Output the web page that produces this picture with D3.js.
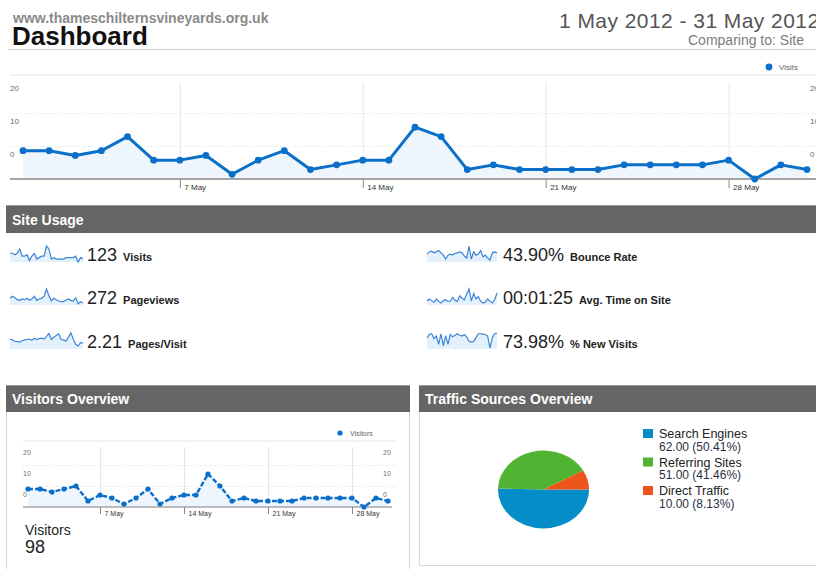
<!DOCTYPE html>
<html>
<head>
<meta charset="utf-8">
<script src="https://cdn.jsdelivr.net/npm/d3@7"></script>
<style>
  body { margin: 0; background: #fff; }
  svg { display: block; font-family: "Liberation Sans", Arial, Helvetica, sans-serif; }
</style>
</head>
<body>
<div class="Dashboard"></div>
<script>
// Size of the page
const WIDTH = 816;
const HEIGHT = 569;

// Daily figures, 1 May 2012 to 31 May 2012
const visits = [6, 6, 5, 6, 9, 4, 4, 5, 1, 4, 6, 2, 3, 4, 4, 11, 9, 2, 3, 2, 2, 2, 2, 3, 3, 3, 3, 4, 0, 3, 2];
const visitors = [6, 6, 5, 6, 7, 2, 4, 3, 1, 3, 6, 1, 3, 4, 4, 11, 7, 2, 3, 2, 2, 2, 2, 3, 3, 3, 3, 3, 0, 3, 2];
const pageviews = [10, 13, 11, 8, 7, 9, 8, 10, 7, 9, 13, 7, 9, 10, 13, 24, 14, 6, 10, 8, 6, 5, 5, 7, 9, 7, 6, 11, 2, 5, 3];
const pagesPerVisit = [2.3, 2.1, 1.8, 1.7, 1.6, 1.9, 2.1, 2.2, 2.3, 2.0, 2.5, 2.2, 2.4, 2.5, 2.3, 2.9, 3.6, 2.2, 2.7, 3.1, 3.5, 2.2, 2.1, 1.8, 2.7, 3.7, 2.3, 1.1, 0.7, 1.5, 1.3];
const bounceRate = [44, 56, 60, 51, 56, 64, 51, 38, 16, 38, 44, 40, 47, 51, 56, 51, 33, 22, 89, 16, 56, 38, 44, 64, 29, 38, 22, 11, 51, 56, 51];
const avgTime = [67, 100, 73, 47, 100, 60, 33, 73, 87, 60, 67, 127, 80, 60, 153, 113, 87, 180, 267, 67, 193, 100, 140, 60, 33, 47, 100, 60, 33, 87, 200];
const newVisits = [60, 76, 80, 54, 68, 24, 80, 16, 70, 24, 76, 64, 72, 80, 72, 68, 76, 64, 40, 36, 40, 60, 80, 80, 78, 76, 68, 4, 60, 80, 84];

// Axis ticks
const weekTicks = ["2012-05-07", "2012-05-14", "2012-05-21", "2012-05-28"];
const yTickValues = [7, 14, 21];
const yTickLabels = ["0", "10", "20"];

// Site usage summary
const usageValues = ["123", "272", "2.21", "43.90%", "00:01:25", "73.98%"];
const usageLabels = ["Visits", "Pageviews", "Pages/Visit", "Bounce Rate", "Avg. Time on Site", "% New Visits"];
const uniqueVisitors = 98;

// Traffic sources
const sources = ["Search Engines", "Referring Sites", "Direct Traffic"];
const sourceValues = [62, 51, 10];
const sourceShares = ["50.41%", "41.46%", "8.13%"];

const SOURCE_COLORS = ["#058dc7", "#50b432", "#ed561b"];
const LINE_BLUE = "#0a6fc9";

const days = d3.range(1, 32).map((d) => new Date(2012, 4, d));
const parseDay = d3.timeParse("%Y-%m-%d");
const ticks = weekTicks.map(parseDay);

var svg = d3
  .select(".Dashboard")
  .append("svg")
  .attr("width", WIDTH)
  .attr("height", HEIGHT);

// ---------- header ----------
svg.append("text").attr("x", 13).attr("y", 23)
  .attr("font-size", 14).attr("font-weight", "bold").attr("fill", "#8a8a8a")
  .text("www.thameschilternsvineyards.org.uk");
svg.append("text").attr("x", 12).attr("y", 45)
  .attr("font-size", 26).attr("font-weight", "bold").attr("fill", "#111")
  .text("Dashboard");
svg.append("text").attr("x", 559).attr("y", 28)
  .attr("font-size", 21).attr("fill", "#555").attr("letter-spacing", 0.45)
  .text("1 May 2012 - 31 May 2012");
svg.append("text").attr("x", 688).attr("y", 45)
  .attr("font-size", 14).attr("fill", "#7d7a78")
  .text("Comparing to: Site");
svg.append("line").attr("x1", 8).attr("x2", WIDTH).attr("y1", 49.5).attr("y2", 49.5)
  .attr("stroke", "#cfcfcf");

// ---------- line chart helper ----------
const MakeLineChart = (data, o) => {
  var g = svg.append("g");

  var x = d3.scaleTime().domain(d3.extent(days)).range([o.left, o.right]);
  var y = d3.scaleLinear().domain([0, 21]).range([o.base, o.top]);

  // top border
  g.append("line").attr("x1", o.frameLeft).attr("x2", o.frameRight)
    .attr("y1", o.topLine).attr("y2", o.topLine).attr("stroke", "#e4e4e4");

  // dotted horizontal grid (the top one is hidden by the frame)
  g.append("g")
    .attr("transform", `translate(${o.frameLeft},0)`)
    .call(d3.axisRight(y).tickValues(yTickValues.slice(0, 2)).tickSize(o.frameRight - o.frameLeft).tickFormat(""))
    .call((a) => a.select(".domain").remove())
    .call((a) => a.selectAll(".tick line").attr("stroke", "#e0e0e0").attr("stroke-dasharray", "1,2"));

  // vertical week lines
  g.append("g")
    .attr("transform", `translate(0,${o.base})`)
    .call(d3.axisTop(x).tickValues(ticks).tickSize(o.base - o.gridTop).tickFormat(""))
    .call((a) => a.select(".domain").remove())
    .call((a) => a.selectAll(".tick line").attr("stroke", "#e6e6e6"));

  // y labels on both sides
  [o.frameLeft, o.rightLabel].forEach((lx) => {
    g.append("g")
      .attr("transform", `translate(${lx},0)`)
      .call(d3.axisRight(y).tickValues(yTickValues).tickSize(0).tickFormat((d, i) => yTickLabels[i]))
      .call((a) => a.select(".domain").remove())
      .call((a) => a.selectAll(".tick text")
        .attr("x", 0).attr("dy", null).attr("y", o.labelDy)
        .attr("font-size", o.font).attr("fill", "#6b6b6b").attr("font-family", null));
  });

  // area + line + dots
  g.append("path").datum(data)
    .attr("fill", "#eef5fc")
    .attr("d", d3.area().x((d, i) => x(days[i])).y0(o.base).y1((d) => y(d)));

  g.append("line").attr("x1", o.frameLeft).attr("x2", o.baseRight)
    .attr("y1", o.base).attr("y2", o.base).attr("stroke", "#a5a5a5").attr("stroke-width", o.baseWidth);

  g.append("path").datum(data)
    .attr("fill", "none").attr("stroke", LINE_BLUE)
    .attr("stroke-width", o.lineWidth)
    .attr("stroke-dasharray", o.dash)
    .attr("stroke-linejoin", "round")
    .attr("d", d3.line().x((d, i) => x(days[i])).y((d) => y(d)));

  g.selectAll("circle.pt").data(data).join("circle")
    .attr("class", "pt")
    .attr("cx", (d, i) => x(days[i])).attr("cy", (d) => y(d))
    .attr("r", o.r).attr("fill", LINE_BLUE);

  // date ticks below the base line
  g.append("g")
    .attr("transform", `translate(0,${o.base})`)
    .call(d3.axisBottom(x).tickValues(ticks).tickSize(o.tick).tickFormat(d3.timeFormat("%-d May")))
    .call((a) => a.select(".domain").remove())
    .call((a) => a.selectAll(".tick line").attr("stroke", "#888"))
    .call((a) => a.selectAll(".tick text")
      .attr("text-anchor", "start").attr("x", 4).attr("dy", null).attr("y", o.tick + 2)
      .attr("font-size", o.font).attr("fill", "#333").attr("font-family", null));

  // legend
  g.append("circle").attr("cx", o.legendX).attr("cy", o.legendY).attr("r", o.r).attr("fill", LINE_BLUE);
  g.append("text").attr("x", o.legendX + 10).attr("y", o.legendY + 3)
    .attr("font-size", o.font).attr("fill", "#666").text(o.name);
};

MakeLineChart(visits, {
  left: 23, right: 807, top: 80, base: 179, gridTop: 82, topLine: 75,
  frameLeft: 10, frameRight: WIDTH, baseRight: WIDTH, rightLabel: 810,
  labelDy: 10, font: 8, tick: 9, r: 3.4, lineWidth: 3, baseWidth: 2, dash: null,
  legendX: 769, legendY: 67, name: "Visits",
});

// ---------- panel headers ----------
const panelHeader = (x0, x1, y0, h, title) => {
  svg.append("rect").attr("x", x0).attr("y", y0).attr("width", x1 - x0).attr("height", h)
    .attr("fill", "#656565");
  svg.append("line").attr("x1", x0).attr("x2", x1).attr("y1", y0 + 0.5).attr("y2", y0 + 0.5)
    .attr("stroke", "#9a9a9a");
  svg.append("text").attr("x", x0 + 6).attr("y", y0 + h - 8)
    .attr("font-size", 14).attr("font-weight", "bold").attr("fill", "#fff").text(title);
};

panelHeader(6, WIDTH, 205, 28, "Site Usage");

// ---------- site usage rows ----------
const sparkSeries = [visits, pageviews, pagesPerVisit, bounceRate, avgTime, newVisits];
const rowBase = [262, 305, 349];
const rowTop = [246, 289, 333];

const drawSpark = (values, x0, w, top, bottom) => {
  var sx = d3.scaleLinear().domain([0, values.length - 1]).range([x0, x0 + w]);
  var sy = d3.scaleLinear().domain([0, d3.max(values)]).range([bottom, top]);
  svg.append("path").datum(values).attr("fill", "#e4f0fb")
    .attr("d", d3.area().x((d, i) => sx(i)).y0(bottom).y1((d) => sy(d)));
  svg.append("path").datum(values).attr("fill", "none")
    .attr("stroke", "#3a86d6").attr("stroke-width", 1.2)
    .attr("d", d3.line().x((d, i) => sx(i)).y((d) => sy(d)));
};

usageValues.forEach((v, i) => {
  var col = Math.floor(i / 3);
  var row = i % 3;
  var sx = col === 0 ? 10 : 427;
  var tx = col === 0 ? 87 : 503;
  drawSpark(sparkSeries[i], sx, col === 0 ? 73 : 70, rowTop[row], rowBase[row]);

  var t = svg.append("text").attr("x", tx).attr("y", rowBase[row] - 1).attr("fill", "#222");
  t.append("tspan").attr("font-size", 18).text(v);
  t.append("tspan").attr("font-size", 11).attr("font-weight", "bold").attr("dx", 6).text(usageLabels[i]);
});

// ---------- visitors overview ----------
panelHeader(6, 410, 385, 27, "Visitors Overview");
svg.append("path").attr("d", "M6.5,412V569M409.5,412V569").attr("stroke", "#d6d6d6");

MakeLineChart(visitors, {
  left: 28, right: 388, top: 444, base: 507, gridTop: 447, topLine: 441,
  frameLeft: 23, frameRight: 396, baseRight: 392, rightLabel: 383,
  labelDy: 10, font: 7, tick: 7, r: 2.6, lineWidth: 2.4, baseWidth: 1.5, dash: "5,2",
  legendX: 340, legendY: 433, name: "Visitors",
});

svg.append("text").attr("x", 25).attr("y", 535).attr("font-size", 14).attr("fill", "#222").text("Visitors");
svg.append("text").attr("x", 25).attr("y", 553).attr("font-size", 18).attr("fill", "#222").text(uniqueVisitors);

// ---------- traffic sources ----------
panelHeader(419, WIDTH, 385, 27, "Traffic Sources Overview");
svg.append("path").attr("d", "M419.5,412V565.5H816").attr("fill", "none").attr("stroke", "#d6d6d6");

var pie = d3.pie().sort(null).startAngle(Math.PI / 2).endAngle(Math.PI / 2 + 2 * Math.PI);
var arc = d3.arc().innerRadius(0).outerRadius(45.5);

svg.append("g")
  .attr("transform", "translate(543.5,489.5) scale(1,0.855)")
  .selectAll("path")
  .data(pie(sourceValues))
  .join("path")
  .attr("d", arc)
  .attr("fill", (d, i) => SOURCE_COLORS[i]);

var legend = svg.append("g").selectAll("g").data(sources).join("g")
  .attr("transform", (d, i) => `translate(643,${429 + i * 28.5})`);
legend.append("rect").attr("width", 10).attr("height", 9).attr("fill", (d, i) => SOURCE_COLORS[i]);
legend.append("text").attr("x", 16).attr("y", 9).attr("font-size", 12.5).attr("fill", "#222").text((d) => d);
legend.append("text").attr("x", 16).attr("y", 21.5).attr("font-size", 12).attr("fill", "#2b2f45")
  .text((d, i) => `${sourceValues[i].toFixed(2)} (${sourceShares[i]})`);
</script>
</body>
</html>
